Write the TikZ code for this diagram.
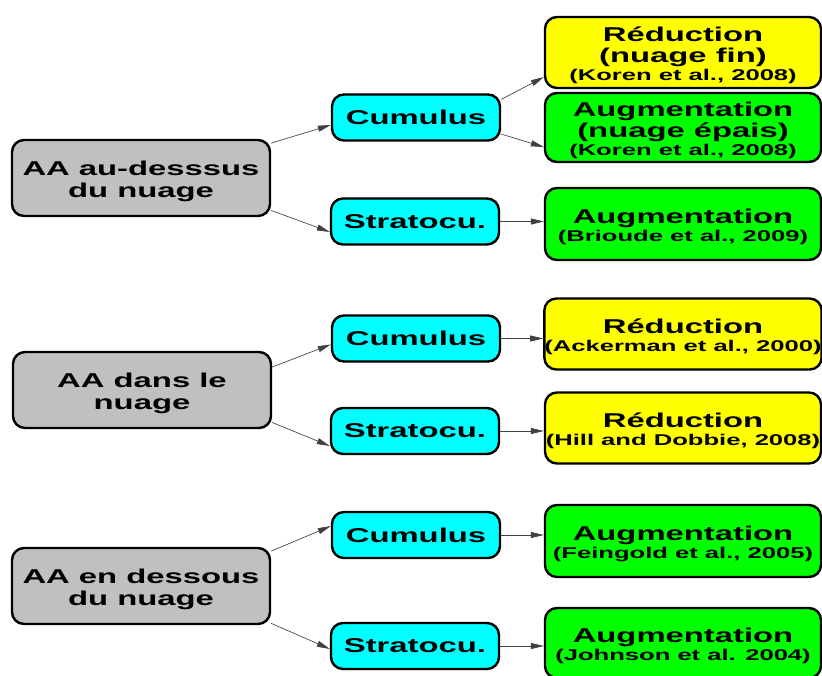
\documentclass[tikz,border=0pt]{standalone}
\usepackage{fontspec}
\usetikzlibrary{arrows.meta}
\newfontfamily\boldwide[FakeStretch=1.64]{Liberation Sans Bold}
\newcommand\mainsz{\boldwide\fontsize{20}{22}\selectfont}
\newcommand\citesz{\boldwide\fontsize{15.6}{19}\selectfont}
\newcommand\toppad{\rule{0pt}{21pt}}
\definecolor{boxgray}{HTML}{C0C0C0}
\definecolor{boxcyan}{HTML}{00FFFF}
\definecolor{boxyellow}{HTML}{FFFF00}
\definecolor{boxgreen}{HTML}{00FF00}
\tikzset{
  box/.style={draw=black, line width=2.4pt, rounded corners=12pt, inner sep=0pt, align=center},
  src/.style={box, fill=boxgray, minimum width=258pt, minimum height=76pt, font=\mainsz},
  cloudbox/.style={box, fill=boxcyan, minimum width=168pt, minimum height=46pt, font=\mainsz},
  res/.style={box, minimum width=276pt, minimum height=71pt, font=\mainsz},
  arr/.style={-{Triangle[length=13pt,width=6pt]}, line width=0.65pt, draw=black!75}
}
\begin{document}
\begin{tikzpicture}[x=1pt,y=-1pt]
\useasboundingbox[fill=white] (0,0) rectangle (822,675);
% source boxes
\node[src] (g1) at (141,178) {\toppad AA au-desssus\\du nuage};
\node[src] (g2) at (142,390) {\toppad AA dans le\\nuage};
\node[src] (g3) at (141,586) {\toppad AA en dessous\\du nuage};
% cloud type boxes
\node[cloudbox] (c1) at (416,117.5) {Cumulus};
\node[cloudbox] (s1) at (415,221.5) {Stratocu.};
\node[cloudbox] (c2) at (416,338.5) {Cumulus};
\node[cloudbox] (s2) at (415,431) {Stratocu.};
\node[cloudbox] (c3) at (416,535) {Cumulus};
\node[cloudbox] (s3) at (415,646) {Stratocu.};
% result boxes
\node[res, fill=boxyellow] (r1) at (683,52.5) {\toppad Réduction\\[-1pt](nuage fin)\\[-4pt]\citesz (Koren et al., 2008)};
\node[res, fill=boxgreen, minimum height=69pt] (r2) at (683,127.5) {\toppad Augmentation\\[-1pt](nuage épais)\\[-4pt]\citesz (Koren et al., 2008)};
\node[res, fill=boxgreen, minimum height=72pt] (r3) at (683,224) {\toppad Augmentation\\[-4pt]\citesz (Brioude et al., 2009)};
\node[res, fill=boxyellow] (r4) at (683,334) {\toppad Réduction\\[-4pt]\citesz (Ackerman et al., 2000)};
\node[res, fill=boxyellow] (r5) at (683,428) {\toppad Réduction\\[-4pt]\citesz (Hill and Dobbie, 2008)};
\node[res, fill=boxgreen, minimum height=72pt] (r6) at (683,541) {\toppad Augmentation\\[-4pt]\citesz (Feingold et al., 2005)};
\node[res, fill=boxgreen, minimum height=70pt] (r7) at (683,643) {\toppad Augmentation\\[-4pt]\citesz (Johnson et al. 2004)};
% connectors
\draw[arr] (g1.15) -- (c1.185);
\draw[arr] (g1.-14) -- (s1.187.5);
\draw[arr] (c1.12.6) -- (r1.190.5);
\draw[arr] (c1.-11) -- (r2.188);
\draw[arr] (s1.east) -- (s1.east -| r3.west);
\draw[arr] (g2.10) -- (c2.184.4);
\draw[arr] (g2.-14.3) -- (s2.190.8);
\draw[arr] (c2.east) -- (c2.east -| r4.west);
\draw[arr] (s2.east) -- (s2.east -| r5.west);
\draw[arr] (g3.15) -- (c3.174.7);
\draw[arr] (g3.-16) -- (s3.182);
\draw[arr] (c3.east) -- (c3.east -| r6.west);
\draw[arr] (s3.east) -- (s3.east -| r7.west);
\end{tikzpicture}
\end{document}
